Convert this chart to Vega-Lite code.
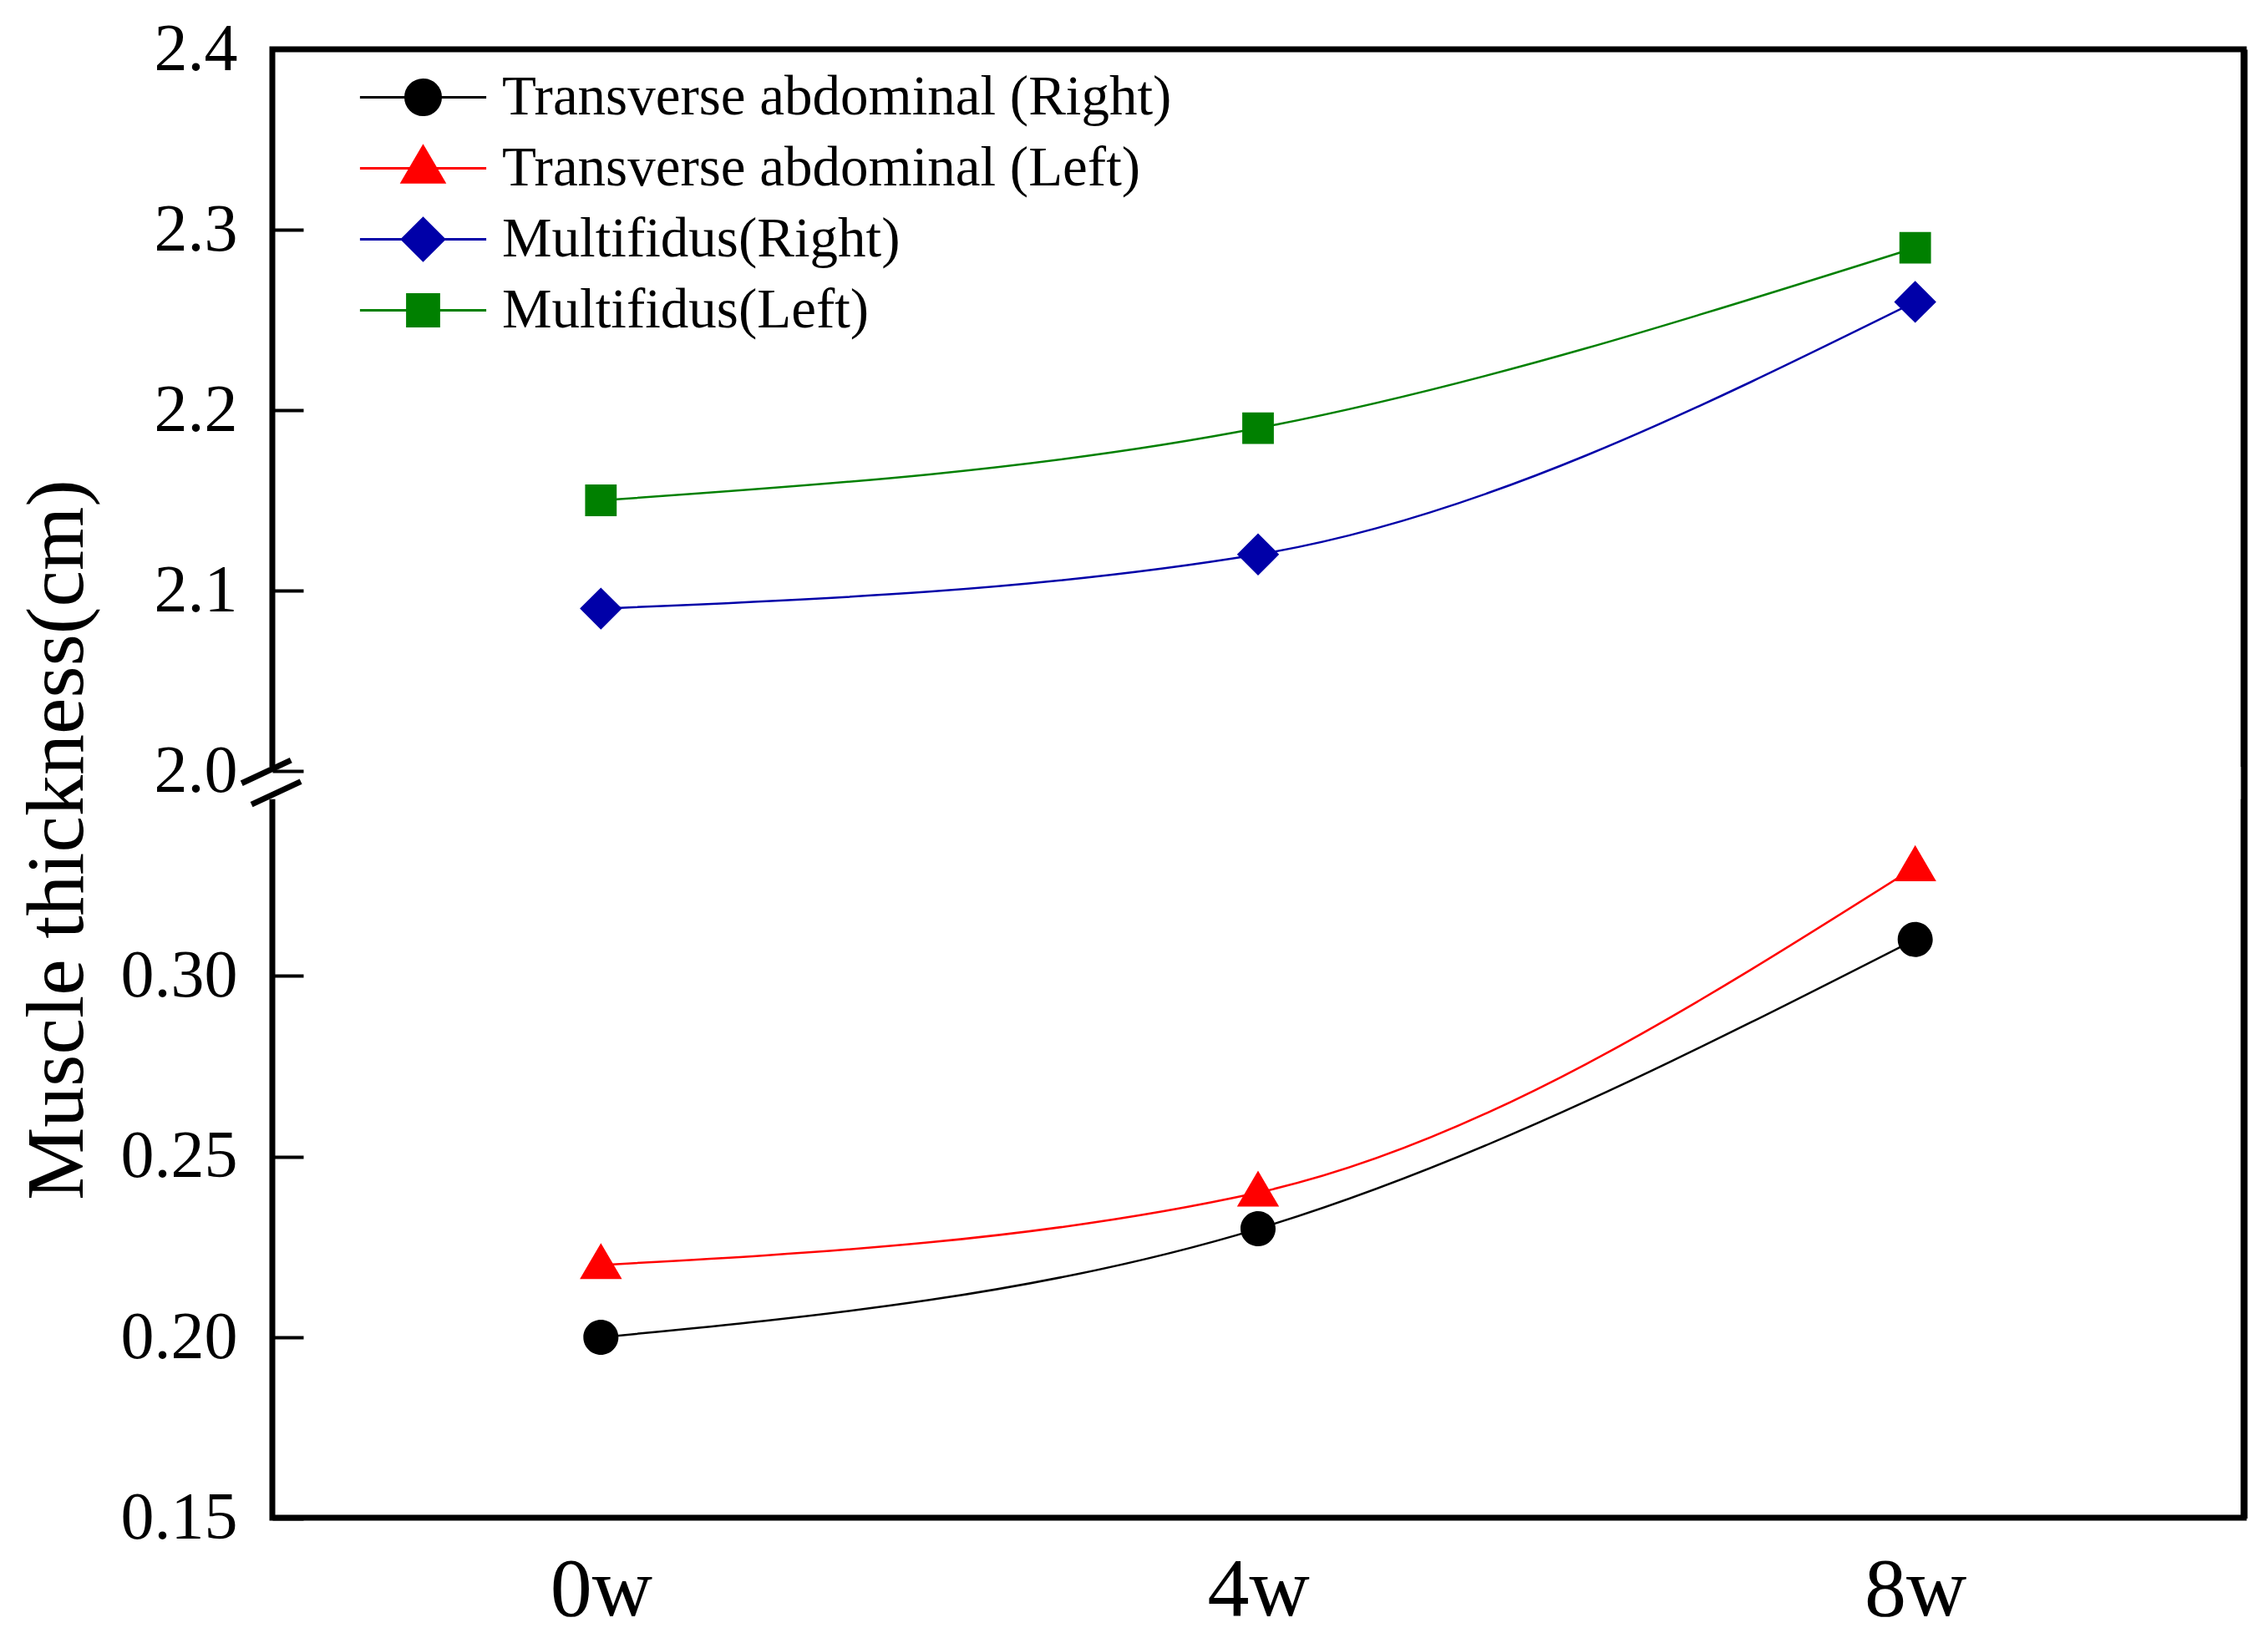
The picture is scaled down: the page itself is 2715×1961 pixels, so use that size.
{
  "$schema": "https://vega.github.io/schema/vega-lite/v6.json",
  "width": 2360,
  "height": 1758,
  "autosize": {"type": "none"},
  "padding": {"left": 326, "top": 59, "right": 29, "bottom": 144},
  "background": "white",
  "config": {
    "font": "Liberation Serif",
    "view": {"stroke": "black", "strokeWidth": 7},
    "axis": {
      "grid": false,
      "labelFont": "Liberation Serif",
      "titleFont": "Liberation Serif",
      "labelColor": "black",
      "titleColor": "black",
      "titleFontWeight": "normal"
    },
    "legend": {
      "labelFont": "Liberation Serif",
      "labelFontSize": 67,
      "labelColor": "black",
      "labelLimit": 0,
      "symbolSize": 1764,
      "symbolStrokeWidth": 3,
      "rowPadding": 17,
      "labelOffset": 61,
      "padding": 0,
      "symbolOffset": 0
    }
  },
  "datasets": {
    "thickness": [
      {"week": "0w", "series": "Transverse abdominal (Right)", "value": 0.20},
      {"week": "4w", "series": "Transverse abdominal (Right)", "value": 0.23},
      {"week": "8w", "series": "Transverse abdominal (Right)", "value": 0.31},
      {"week": "0w", "series": "Transverse abdominal (Left)", "value": 0.22},
      {"week": "4w", "series": "Transverse abdominal (Left)", "value": 0.24},
      {"week": "8w", "series": "Transverse abdominal (Left)", "value": 0.33},
      {"week": "0w", "series": "Multifidus(Right)", "value": 2.09},
      {"week": "4w", "series": "Multifidus(Right)", "value": 2.12},
      {"week": "8w", "series": "Multifidus(Right)", "value": 2.26},
      {"week": "0w", "series": "Multifidus(Left)", "value": 2.15},
      {"week": "4w", "series": "Multifidus(Left)", "value": 2.19},
      {"week": "8w", "series": "Multifidus(Left)", "value": 2.29}
    ],
    "gap": [{"lo": 0.35, "hi": 2.0}]
  },
  "layer": [
    {
      "data": {"name": "gap"},
      "mark": {"type": "rect", "fill": "white", "stroke": "white", "strokeWidth": 10},
      "encoding": {
        "y": {
          "field": "lo",
          "type": "quantitative",
          "scale": {"domain": [0.15, 0.35, 2.0, 2.4], "range": [1758.5, 892.5, 864, 0], "zero": false, "nice": false},
          "axis": {"orient": "right", "labels": false, "ticks": false, "domain": true, "domainColor": "black", "domainWidth": 8, "title": null, "zindex": 1}
        },
        "y2": {"field": "hi"}
      }
    },
    {
      "data": {"name": "gap"},
      "mark": {"type": "rect", "fill": "white", "stroke": "white", "strokeWidth": 10},
      "encoding": {
        "y": {
          "field": "lo",
          "type": "quantitative",
          "scale": {"domain": [0.15, 0.35, 2.0, 2.4], "range": [1758.5, 892.5, 864, 0], "zero": false, "nice": false},
          "axis": {
            "orient": "left",
            "values": [1],
            "labelExpr": "'='",
            "labelFontSize": 140,
            "labelAngle": -25,
            "labelAlign": "center",
            "labelBaseline": "middle",
            "labelPadding": 0,
            "labelOverlap": false,
            "ticks": false,
            "domain": false,
            "title": null,
            "zindex": 1
          }
        },
        "y2": {"field": "hi"}
      }
    },
    {
      "data": {"name": "thickness"},
      "mark": {"type": "line", "interpolate": "monotone", "strokeWidth": 2.5},
      "encoding": {
        "x": {
          "field": "week",
          "type": "ordinal",
          "sort": ["0w", "4w", "8w"],
          "scale": {"type": "point", "padding": 0.5},
          "axis": {"orient": "bottom", "labelFontSize": 100, "labelAngle": 0, "ticks": false, "domain": false, "labelPadding": 37, "title": null}
        },
        "y": {
          "field": "value",
          "type": "quantitative",
          "scale": {"domain": [0.15, 0.35, 2.0, 2.4], "range": [1758.5, 892.5, 864, 0], "zero": false, "nice": false},
          "axis": {
            "orient": "left",
            "zindex": 1,
            "values": [0.15, 0.2, 0.25, 0.3, 2.0, 2.1, 2.2, 2.3, 2.4],
            "labelExpr": "datum.value < 1 ? format(datum.value, '.2f') : format(datum.value, '.1f')",
            "labelFontSize": 80,
            "labelAlign": "right",
            "labelPadding": 79,
            "labelOverlap": false,
            "tickSize": -37,
            "tickWidth": 4,
            "tickColor": "black",
            "domain": false,
            "title": "Muscle thickness(cm)",
            "titleFontSize": 98,
            "titleX": -228,
            "titleY": 946,
            "titleBaseline": "alphabetic",
            "titleAlign": "center"
          }
        },
        "stroke": {
          "field": "series",
          "type": "nominal",
          "scale": {
            "domain": ["Transverse abdominal (Right)", "Transverse abdominal (Left)", "Multifidus(Right)", "Multifidus(Left)"],
            "range": ["#000000", "#ff0000", "#0000a8", "#008000"]
          }
        }
      }
    },
    {
      "data": {"name": "thickness"},
      "mark": {"type": "point", "filled": true, "size": 1764, "opacity": 1},
      "encoding": {
        "x": {
          "field": "week",
          "type": "ordinal",
          "sort": ["0w", "4w", "8w"],
          "scale": {"type": "point", "padding": 0.5},
          "axis": {"orient": "bottom", "labelFontSize": 100, "labelAngle": 0, "ticks": false, "domain": false, "labelPadding": 37, "title": null}
        },
        "y": {"field": "value", "type": "quantitative", "axis": null},
        "fill": {
          "field": "series",
          "type": "nominal",
          "scale": {
            "domain": ["Transverse abdominal (Right)", "Transverse abdominal (Left)", "Multifidus(Right)", "Multifidus(Left)"],
            "range": ["#000000", "#ff0000", "#0000a8", "#008000"]
          },
          "legend": {"orient": "none", "legendX": 147, "legendY": 24, "title": null}
        },
        "shape": {
          "field": "series",
          "type": "nominal",
          "scale": {
            "domain": ["Transverse abdominal (Right)", "Transverse abdominal (Left)", "Multifidus(Right)", "Multifidus(Left)"],
            "range": [
              "M-3.6,0H3.6M1,0A1,1,0,1,1,-1,0A1,1,0,1,1,1,0Z",
              "M-3.6,0H3.6M0,-1.25L1.2,0.8L-1.2,0.8Z",
              "M-3.6,0H3.6M0,-1.2L1.2,0L0,1.2L-1.2,0Z",
              "M-3.6,0H3.6M-0.9,-0.9H0.9V0.9H-0.9Z"
            ]
          }
        }
      }
    }
  ],
  "resolve": {"axis": {"y": "independent"}}
}
